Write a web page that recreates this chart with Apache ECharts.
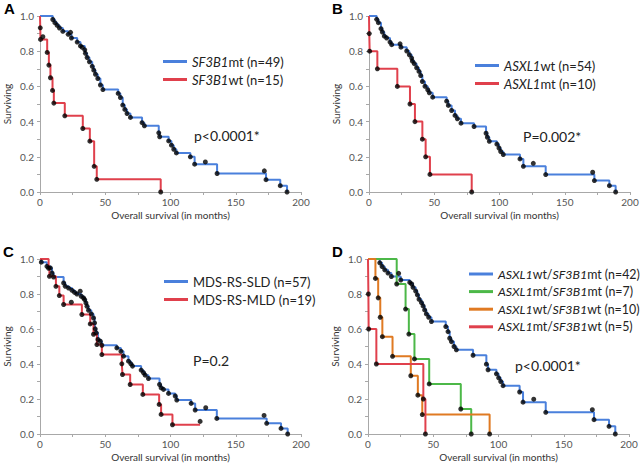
<!DOCTYPE html>
<html><head><meta charset="utf-8">
<script src="https://cdn.jsdelivr.net/npm/echarts@6/dist/echarts.min.js"></script>
<style>html,body{margin:0;padding:0;background:#fff}#c{width:643px;height:463px}</style>
</head><body><div id="c"></div>
<script>
// ---------- Panel A ----------
const A_mt_t = [0, 9.8, 11.4, 13.1, 14.9, 17.5, 21.6, 24.1, 28.5, 31.0, 34.3, 34.8, 36.1, 37.9, 40.0, 41.2, 42.5, 44.3, 46.3, 48.2, 59.9, 61.6, 63.4, 65.0, 66.7, 69.3, 78.2, 80.0, 91.0, 91.7, 98.6, 100.7, 102.5, 104.5, 115.2, 118.5, 135.7, 173.2, 184.1, 189.3];
const A_mt_s = [1, 0.980, 0.962, 0.947, 0.932, 0.913, 0.896, 0.875, 0.852, 0.830, 0.808, 0.788, 0.764, 0.740, 0.714, 0.692, 0.669, 0.645, 0.608, 0.582, 0.560, 0.537, 0.494, 0.469, 0.446, 0.424, 0.394, 0.376, 0.336, 0.314, 0.290, 0.266, 0.243, 0.222, 0.200, 0.158, 0.105, 0.070, 0.036, 0];
const A_mt_cens = [[23.4, 0.907], [32.3, 0.822], [126.7, 0.171], [171.9, 0.120]];
const A_wt_t = [0, 0.2, 0.4, 5.5, 6.8, 8.0, 9.6, 10.6, 19.0, 32.8, 38.2, 41.5, 43.5, 92.5];
const A_wt_s = [1, 0.933, 0.867, 0.793, 0.721, 0.649, 0.577, 0.505, 0.433, 0.361, 0.289, 0.146, 0.072, 0];
const A_wt_cens = [[2.2, 0.882]];

// ---------- Panel B ----------
const B_wt_t = [0, 5.9, 7.2, 9.2, 10.2, 11.7, 13.5, 16.1, 17.4, 24.5, 28.9, 30.9, 32.7, 33.2, 34.7, 36.5, 38.3, 39.6, 40.9, 42.9, 45.0, 46.2, 48.8, 59.5, 60.8, 63.3, 65.9, 67.7, 70.5, 80.5, 89.7, 90.7, 92.2, 98.0, 99.6, 100.9, 102.9, 115.7, 118.3, 135.4, 172.7, 184.2, 189.0];
const B_wt_s = [1, 0.981, 0.962, 0.928, 0.909, 0.886, 0.875, 0.852, 0.837, 0.823, 0.801, 0.780, 0.761, 0.744, 0.729, 0.706, 0.685, 0.662, 0.628, 0.601, 0.581, 0.564, 0.539, 0.516, 0.492, 0.463, 0.435, 0.416, 0.391, 0.372, 0.334, 0.311, 0.288, 0.272, 0.250, 0.230, 0.213, 0.188, 0.146, 0.099, 0.065, 0.036, 0];
const B_wt_cens = [[23.8, 0.842], [125.9, 0.163], [171.4, 0.112]];
const B_mt_t = [0, 0.2, 0.5, 6.4, 21.7, 31.4, 35.2, 40.9, 43.4, 46.7, 78.7];
const B_mt_s = [1, 0.9, 0.8, 0.7, 0.6, 0.5, 0.4, 0.3, 0.2, 0.1, 0];
const B_mt_cens = [];

// ---------- Panel C ----------
const C_sld_t = [0, 1.0, 5.3, 7.9, 9.2, 10.4, 18.1, 19.4, 21.9, 24.5, 26.5, 28.3, 31.6, 33.4, 34.2, 35.2, 36.0, 37.2, 39.3, 41.0, 41.8, 42.3, 43.1, 44.4, 46.2, 47.4, 58.9, 62.0, 64.0, 67.8, 69.6, 70.9, 77.5, 79.3, 80.6, 83.1, 91.6, 92.8, 94.6, 98.5, 103.6, 104.8, 115.8, 118.9, 135.5, 173.7, 184.7, 189.8];
const C_sld_s = [1, 0.982, 0.958, 0.949, 0.920, 0.897, 0.863, 0.844, 0.834, 0.821, 0.809, 0.800, 0.787, 0.777, 0.768, 0.749, 0.730, 0.707, 0.686, 0.663, 0.635, 0.601, 0.578, 0.540, 0.530, 0.507, 0.492, 0.473, 0.445, 0.416, 0.401, 0.388, 0.365, 0.350, 0.336, 0.317, 0.283, 0.264, 0.255, 0.232, 0.217, 0.194, 0.175, 0.137, 0.089, 0.061, 0.032, 0];
const C_sld_cens = [[30.8, 0.816], [127.0, 0.150], [171.7, 0.106]];
const C_mld_t = [0, 6.6, 7.2, 12.2, 14.8, 18.1, 32.1, 38.5, 41.0, 43.6, 47.4, 62.7, 63.2, 69.1, 78.8, 91.3, 92.8, 101.5, 122.7];
const C_mld_s = [1, 0.947, 0.901, 0.844, 0.791, 0.740, 0.683, 0.629, 0.570, 0.511, 0.454, 0.401, 0.340, 0.283, 0.226, 0.169, 0.112, 0.053, 0.053];
const C_mld_cens = [[24.0, 0.753], [122.7, 0.072]];

// ---------- Panel D ----------
const D_wtmt_t = [0, 9.0, 10.8, 12.8, 15.3, 17.9, 25.1, 32.0, 33.5, 34.5, 36.5, 37.8, 39.1, 40.9, 42.2, 43.4, 44.7, 46.5, 48.6, 59.6, 61.3, 62.6, 63.9, 65.9, 67.7, 80.5, 90.7, 92.0, 98.4, 100.1, 101.7, 103.5, 116.2, 118.8, 136.2, 173.2, 184.7, 189.5];
const D_wtmt_s = [1, 0.978, 0.957, 0.938, 0.920, 0.900, 0.880, 0.866, 0.857, 0.838, 0.817, 0.795, 0.770, 0.751, 0.732, 0.709, 0.686, 0.667, 0.643, 0.614, 0.585, 0.547, 0.528, 0.500, 0.481, 0.450, 0.399, 0.367, 0.344, 0.321, 0.300, 0.276, 0.240, 0.182, 0.124, 0.082, 0.044, 0];
const D_wtmt_cens = [[23.5, 0.918], [127.0, 0.199], [171.9, 0.139]];
const D_mtmt_t = [0, 22.0, 28.8, 31.3, 35.6, 46.9, 71.1, 79.1];
const D_mtmt_s = [1, 0.857, 0.714, 0.571, 0.429, 0.286, 0.143, 0];
const D_wtwt_t = [0, 5.7, 7.8, 9.4, 11.0, 18.8, 32.8, 38.2, 41.6, 93.2];
const D_wtwt_s = [1, 0.889, 0.778, 0.667, 0.556, 0.444, 0.333, 0.222, 0.111, 0];
const D_mtwt_t = [0, 0.3, 0.5, 6.4, 42.4, 44.0];
const D_mtwt_s = [1, 0.8, 0.6, 0.4, 0.2, 0];

const xTicks = [0, 50, 100, 150, 200];
const yTicks = [0.0, 0.2, 0.4, 0.6, 0.8, 1.0];

const BLUE = '#4a80dc', RED = '#e0404c', GREEN = '#4cb848', ORANGE = '#e07a22';
const FONT = 'Lato, "Open Sans", sans-serif';

const panels = [
  { letter: 'A', lpos: [4, 1], grid: { left: 40, top: 16, width: 261, height: 176 },
    legend: { left: 163, top: 55, fs: 13 }, p: 'p<0.0001*', ppos: [194, 128],
    curves: [
      { name: 'SF3B1mt (n=49)', t: A_mt_t, s: A_mt_s, cens: A_mt_cens, color: BLUE },
      { name: 'SF3B1wt (n=15)', t: A_wt_t, s: A_wt_s, cens: A_wt_cens, color: RED } ] },
  { letter: 'B', lpos: [332, 1], grid: { left: 369, top: 16, width: 261, height: 176 },
    legend: { left: 475, top: 59, fs: 13 }, p: 'P=0.002*', ppos: [523, 129],
    curves: [
      { name: 'ASXL1wt (n=54)', t: B_wt_t, s: B_wt_s, cens: B_wt_cens, color: BLUE },
      { name: 'ASXL1mt (n=10)', t: B_mt_t, s: B_mt_s, cens: B_mt_cens, color: RED } ] },
  { letter: 'C', lpos: [3, 244], grid: { left: 40, top: 259, width: 261, height: 175 },
    legend: { left: 164, top: 275, fs: 13 }, p: 'P=0.2', ppos: [193, 353],
    curves: [
      { name: 'MDS-RS-SLD (n=57)', t: C_sld_t, s: C_sld_s, cens: C_sld_cens, color: BLUE },
      { name: 'MDS-RS-MLD (n=19)', t: C_mld_t, s: C_mld_s, cens: C_mld_cens, color: RED } ] },
  { letter: 'D', lpos: [332, 244], grid: { left: 368, top: 259, width: 261, height: 175 },
    legend: { left: 469, top: 268, fs: 12.4 }, p: 'p<0.0001*', ppos: [515, 358],
    curves: [
      { name: 'ASXL1wt/SF3B1mt (n=42)', t: D_wtmt_t, s: D_wtmt_s, cens: D_wtmt_cens, color: BLUE },
      { name: 'ASXL1mt/SF3B1mt (n=7)', t: D_mtmt_t, s: D_mtmt_s, cens: [], color: GREEN },
      { name: 'ASXL1wt/SF3B1wt (n=10)', t: D_wtwt_t, s: D_wtwt_s, cens: [], color: ORANGE },
      { name: 'ASXL1mt/SF3B1wt (n=5)', t: D_mtwt_t, s: D_mtwt_s, cens: [], color: RED } ] }
];

const grids = [], xAxes = [], yAxes = [], series = [], legends = [], graphics = [];
panels.forEach((P, k) => {
  grids.push(Object.assign({ containLabel: false, outerBoundsMode: 'none' }, P.grid));
  xAxes.push({
    type: 'value', gridIndex: k, min: 0, max: 200, interval: 25,
    name: 'Overall survival (in months)', nameLocation: 'middle', nameGap: 18,
    nameTextStyle: { fontSize: 10, color: '#333', fontFamily: FONT },
    axisLine: { show: true, lineStyle: { color: '#a8a8a8', width: 1 } },
    axisTick: { show: true, length: 3, lineStyle: { color: '#a8a8a8' } },
    splitLine: { show: false },
    axisLabel: { fontSize: 10, color: '#555', fontFamily: FONT, margin: 5,
      formatter: v => (xTicks.indexOf(v) >= 0 ? String(v) : '') }
  });
  yAxes.push({
    type: 'value', gridIndex: k, min: 0, max: 1, interval: 0.1,
    name: 'Surviving', nameLocation: 'middle', nameGap: 28,
    nameTextStyle: { fontSize: 10, color: '#333', fontFamily: FONT },
    axisLine: { show: true, lineStyle: { color: '#a8a8a8', width: 1 } },
    axisTick: { show: true, length: 3, lineStyle: { color: '#a8a8a8' } },
    splitLine: { show: false },
    axisLabel: { fontSize: 10, color: '#555', fontFamily: FONT, margin: 6,
      formatter: v => { const r = Math.round(v * 10) / 10; return yTicks.some(y => Math.abs(y - r) < 1e-6) ? r.toFixed(1) : ''; } }
  });
  P.curves.forEach(c => {
    series.push({
      type: 'line', name: c.name, xAxisIndex: k, yAxisIndex: k, step: 'end',
      data: c.t.map((v, i) => [v, c.s[i]]), symbol: 'none', showSymbol: false,
      lineStyle: { color: c.color, width: 2 }, itemStyle: { color: c.color },
      z: 2, animation: false, silent: true
    });
  });
  P.curves.forEach(c => {
    const dots = [];
    for (let i = 1; i < c.t.length; i++) if (c.s[i] < c.s[i - 1]) dots.push([c.t[i], c.s[i]]);
    c.cens.forEach(d => dots.push(d));
    series.push({
      type: 'scatter', xAxisIndex: k, yAxisIndex: k, data: dots, symbolSize: 5,
      itemStyle: { color: '#000' }, z: 3, animation: false, silent: true
    });
  });
  const fs = P.legend.fs;
  legends.push({
    show: true, orient: 'vertical', left: P.legend.left, top: P.legend.top, padding: 0,
    icon: 'rect', itemWidth: 24, itemHeight: 3, itemGap: 18 - fs, selectedMode: false,
    data: P.curves.map(c => c.name),
    formatter: n => n.replace(/(SF3B1|ASXL1)/g, '{i|$1}'),
    textStyle: { fontSize: fs, color: '#222', fontFamily: FONT,
      rich: { i: { fontStyle: 'italic', fontSize: fs, color: '#222', fontFamily: FONT } } }
  });
  graphics.push({ type: 'text', left: P.lpos[0], top: P.lpos[1],
    style: { text: P.letter, font: 'bold 15px "Liberation Sans", Arial, sans-serif', fill: '#000' } });
  graphics.push({ type: 'text', left: P.ppos[0], top: P.ppos[1],
    style: { text: P.p, font: '14px ' + FONT, fill: '#222' } });
});

const chart = echarts.init(document.getElementById('c'), null, { renderer: 'svg' });
chart.setOption({
  backgroundColor: '#fff', animation: false,
  grid: grids, xAxis: xAxes, yAxis: yAxes, series: series, legend: legends, graphic: graphics
});
</script></body></html>
